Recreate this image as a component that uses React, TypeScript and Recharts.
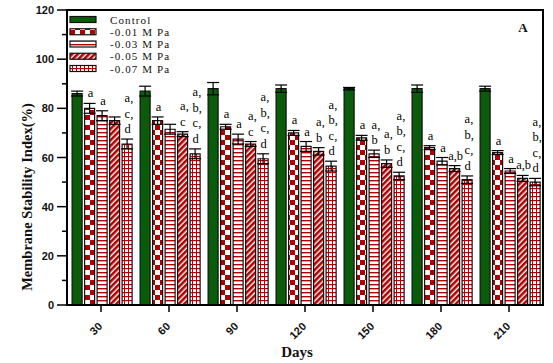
import React from "react";
import {
  BarChart,
  Bar,
  XAxis,
  YAxis,
  ErrorBar,
  LabelList,
  Label,
  ReferenceArea,
} from "recharts";

const days = ["30", "60", "90", "120", "150", "180", "210"];
const yTicks = [0, 10, 20, 30, 40, 50, 60, 70, 80, 90, 100, 110, 120];

const control = [86, 87, 88, 88, 88, 88, 88];
const controlErr = [1, 2, 2.5, 1.5, 0.5, 1.5, 1];
const mpa001 = [80, 75, 72.5, 70, 68, 64, 62];
const mpa001Err = [2, 1.5, 1, 1, 1, 0.8, 0.8];
const mpa003 = [77, 71.5, 67.5, 64.5, 61.5, 58.5, 54.5];
const mpa003Err = [2, 2, 2, 2, 1.5, 1.5, 1];
const mpa005 = [75, 69.5, 65.5, 62.5, 57.5, 55.5, 51.5];
const mpa005Err = [1.5, 1, 1, 1.5, 1.5, 1.2, 1.2];
const mpa007 = [65.5, 61.5, 59.5, 56.5, 52.5, 51, 50];
const mpa007Err = [2, 2, 2, 2, 1.5, 1.5, 1.5];

// letters above bars, "|" = new line
const lab001 = ["a", "a", "a", "a", "a", "a", "a"];
const lab003 = ["a", "", "a", "a", "a,|b", "a", "a"];
const lab005 = ["", "a,|c", "a,|c", "a,|b", "a,|b", "a,b", "a,b"];
const lab007 = [
  "a,|c,|d",
  "a,|b,|c,|d",
  "a,|b,|c,|d",
  "a,|b,|c,|d",
  "a,|b,|c,|d",
  "a,|b,|c,|d",
  "a,|b,|c,|d",
];

const data = days.map((d, i) => ({
  day: d,
  control: control[i],
  controlErr: controlErr[i],
  m001: mpa001[i],
  m001Err: mpa001Err[i],
  m003: mpa003[i],
  m003Err: mpa003Err[i],
  m005: mpa005[i],
  m005Err: mpa005Err[i],
  m007: mpa007[i],
  m007Err: mpa007Err[i],
}));

const RED = "#b00000";
const GREEN = "#0a5c0a";
const SERIF = "'Liberation Serif', 'Times New Roman', serif";
const SANS = "Arial, 'Liberation Sans', sans-serif";

const legendItems = [
  { name: "Control", fill: GREEN },
  { name: "-0.01 M Pa", fill: "url(#checker)" },
  { name: "-0.03 M Pa", fill: "url(#hstripe)" },
  { name: "-0.05 M Pa", fill: "url(#hatch)" },
  { name: "-0.07 M Pa", fill: "url(#grid)" },
];
const legendRows = [19.5, 31.75, 44, 56.25, 68.5];

const makeLabel = (labels: string[], errs: number[]) => (props: any) => {
  const { x, y, width, height, value, index } = props;
  const txt = labels[index];
  if (!txt) return null;
  const perUnit = height / value;
  const lines = txt.split("|");
  const base = y - errs[index] * perUnit - 6;
  const cx = x + width / 2;
  const stacked = lines.length > 1;
  return (
    <text
      fontFamily={SERIF}
      fontSize={12.5}
      fill="#000"
      textAnchor={stacked ? "start" : "middle"}
    >
      {lines.map((l, i) => (
        <tspan
          key={i}
          x={stacked ? cx - 2.5 : cx + 1}
          y={base - (lines.length - 1 - i) * 15.5}
        >
          {l}
        </tspan>
      ))}
    </text>
  );
};

const YTick = (props: any) => {
  const { x, y, payload } = props;
  const major = payload.value % 20 === 0;
  return (
    <g>
      <line
        x1={x - (major ? 10 : 5)}
        x2={x}
        y1={y}
        y2={y}
        stroke="#000"
        strokeWidth={1.5}
      />
      {major && (
        <text
          x={x - 13}
          y={y + 4}
          textAnchor="end"
          fontFamily={SANS}
          fontWeight="bold"
          fontSize={11}
          fill="#111"
        >
          {payload.value}
        </text>
      )}
    </g>
  );
};

const XTick = (props: any) => {
  const { x, y, payload } = props;
  const ax = x + 2;
  const ay = y + 13;
  return (
    <text
      x={ax}
      y={ay}
      transform={`rotate(-45, ${ax}, ${ay})`}
      textAnchor="end"
      fontFamily={SANS}
      fontWeight="bold"
      fontSize={11}
      fill="#111"
    >
      {payload.value}
    </text>
  );
};

const errProps = {
  width: 6,
  stroke: "#000",
  strokeWidth: 1.2,
  isAnimationActive: false,
};

export default function App() {
  return (
    <div
      style={{
        position: "absolute",
        left: 0,
        top: 0,
        width: 553,
        height: 363,
        background: "#fff",
      }}
    >
      <BarChart
        width={553}
        height={363}
        data={data}
        margin={{ top: 10, right: 10, bottom: 0, left: 0 }}
        barCategoryGap="7.5%"
        barGap={2.5}
      >
        <defs>
          <pattern id="checker" width={10} height={10} patternUnits="userSpaceOnUse">
            <rect width={10} height={10} fill="#fff" />
            <rect width={5} height={5} fill={RED} />
            <rect x={5} y={5} width={5} height={5} fill={RED} />
          </pattern>
          <pattern id="hstripe" width={4} height={4} patternUnits="userSpaceOnUse">
            <rect width={4} height={4} fill="#fff" />
            <rect y={0} width={4} height={1.4} fill={RED} />
          </pattern>
          <pattern
            id="hatch"
            width={4}
            height={4}
            patternUnits="userSpaceOnUse"
            patternTransform="rotate(45)"
          >
            <rect width={4} height={4} fill="#fff" />
            <rect width={2.6} height={4} fill={RED} />
          </pattern>
          <pattern id="grid" width={4} height={4} patternUnits="userSpaceOnUse">
            <rect width={4} height={4} fill="#fff" />
            <rect y={0} width={4} height={1.2} fill={RED} />
            <rect x={0} width={1} height={4} fill={RED} />
          </pattern>
        </defs>
        <XAxis
          dataKey="day"
          height={58}
          axisLine={{ stroke: "#000", strokeWidth: 2 }}
          tickLine={{ stroke: "#000", strokeWidth: 1.5 }}
          tickSize={7}
          tickMargin={2}
          tick={<XTick />}
          interval={0}
        >
          <Label
            content={() => (
              <text
                x={297}
                y={357}
                textAnchor="middle"
                fontFamily={SERIF}
                fontWeight="bold"
                fontSize={15}
                fill="#111"
              >
                Days
              </text>
            )}
          />
        </XAxis>
        <YAxis
          width={67}
          domain={[0, 120]}
          ticks={yTicks}
          interval={0}
          axisLine={{ stroke: "#000", strokeWidth: 2 }}
          tickLine={false}
          tickSize={0}
          tickMargin={0}
          tick={<YTick />}
        >
          <Label
            content={() => (
              <text
                transform="translate(32, 197) rotate(-90)"
                textAnchor="middle"
                fontFamily={SERIF}
                fontWeight="bold"
                fontSize={14.5}
                fill="#111"
              >
                Membrane Stability Index(%)
              </text>
            )}
          />
        </YAxis>
        <ReferenceArea y1={0} y2={120} fill="none" stroke="#000" strokeWidth={2} />
        <Bar dataKey="control" fill={GREEN} stroke="#111" strokeWidth={1.2} isAnimationActive={false}>
          <ErrorBar dataKey="controlErr" {...errProps} />
        </Bar>
        <Bar dataKey="m001" fill="url(#checker)" stroke="#111" strokeWidth={1.2} isAnimationActive={false}>
          <ErrorBar dataKey="m001Err" {...errProps} />
          <LabelList dataKey="m001" content={makeLabel(lab001, mpa001Err)} />
        </Bar>
        <Bar dataKey="m003" fill="url(#hstripe)" stroke="#111" strokeWidth={1.2} isAnimationActive={false}>
          <ErrorBar dataKey="m003Err" {...errProps} />
          <LabelList dataKey="m003" content={makeLabel(lab003, mpa003Err)} />
        </Bar>
        <Bar dataKey="m005" fill="url(#hatch)" stroke="#111" strokeWidth={1.2} isAnimationActive={false}>
          <ErrorBar dataKey="m005Err" {...errProps} />
          <LabelList dataKey="m005" content={makeLabel(lab005, mpa005Err)} />
        </Bar>
        <Bar dataKey="m007" fill="url(#grid)" stroke="#111" strokeWidth={1.2} isAnimationActive={false}>
          <ErrorBar dataKey="m007Err" {...errProps} />
          <LabelList dataKey="m007" content={makeLabel(lab007, mpa007Err)} />
        </Bar>
      </BarChart>
      <svg
        width={553}
        height={363}
        style={{ position: "absolute", left: 0, top: 0, pointerEvents: "none" }}
      >
        {legendItems.map((it, i) => {
          const cy = legendRows[i];
          return (
            <g key={it.name}>
              <rect
                x={70}
                y={cy - 3}
                width={26}
                height={6}
                fill={it.fill}
                stroke="#111"
                strokeWidth={1.2}
              />
              <text
                x={110}
                y={cy + 4}
                fontFamily={SERIF}
                fontSize={11}
                letterSpacing={1.1}
                fill="#111"
              >
                {it.name}
              </text>
            </g>
          );
        })}
        <text
          x={523}
          y={32}
          textAnchor="middle"
          fontFamily={SERIF}
          fontWeight="bold"
          fontSize={13}
          fill="#111"
        >
          A
        </text>
      </svg>
    </div>
  );
}
